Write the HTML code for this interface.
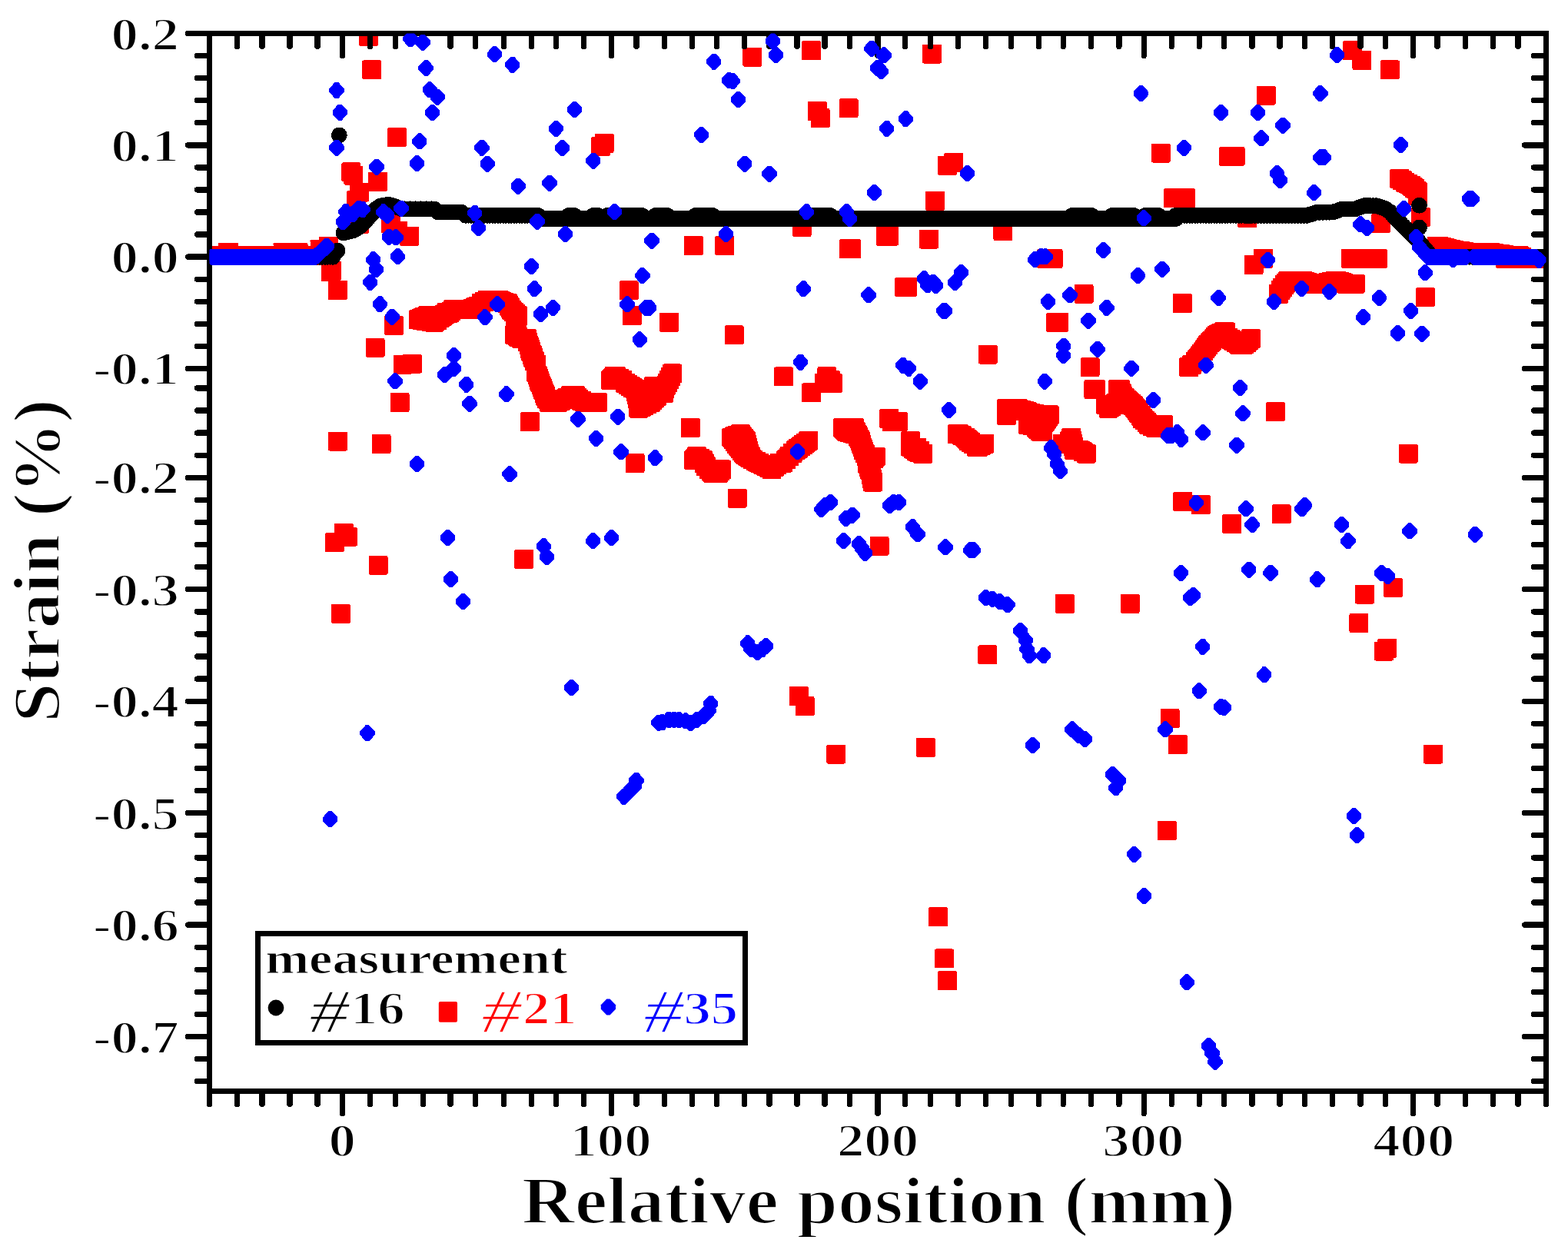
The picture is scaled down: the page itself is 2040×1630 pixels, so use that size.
<!DOCTYPE html>
<html lang="en"><head><meta charset="utf-8"><title>Strain vs relative position</title>
<style>
html,body{margin:0;padding:0;background:#fff;}
body{width:2040px;height:1630px;overflow:hidden;}
svg{display:block;}
text{font-family:"Liberation Serif","DejaVu Serif",serif;}
</style></head><body>
<svg width="2040" height="1630" viewBox="0 0 2040 1630">
<defs>
<clipPath id="plot"><rect x="272.5" y="43.5" width="1739.0" height="1376.0"/></clipPath>
<rect id="r" x="-12.5" y="-12.5" width="25" height="25" rx="2" ry="2"/>
<polygon id="d" points="-9.6,-2.7 -2.1,-10.5 2.1,-10.5 9.6,-2.7 9.6,2.7 2.1,10.5 -2.1,10.5 -9.6,2.7"/>
<circle id="c" r="10.4"/>
</defs>
<rect width="2040" height="1630" fill="#fff"/>
<g fill="#f00" clip-path="url(#plot)" shape-rendering="crispEdges">
<use href="#r" x="479.4" y="47.4"/>
<use href="#r" x="483.7" y="90.8"/>
<use href="#r" x="516.4" y="178.6"/>
<use href="#r" x="430.6" y="353.9"/>
<use href="#r" x="439.6" y="377.2"/>
<use href="#r" x="512.4" y="423.3"/>
<use href="#r" x="488.1" y="452.3"/>
<use href="#r" x="524.1" y="474"/>
<use href="#r" x="520.1" y="523.4"/>
<use href="#r" x="978.8" y="74.1"/>
<use href="#r" x="1055.6" y="65.8"/>
<use href="#r" x="1212.4" y="70.1"/>
<use href="#r" x="1063.2" y="144.5"/>
<use href="#r" x="1067.2" y="153.6"/>
<use href="#r" x="1104" y="140.9"/>
<use href="#r" x="781.8" y="190.3"/>
<use href="#r" x="786.2" y="186.3"/>
<use href="#r" x="1232.5" y="215.3"/>
<use href="#r" x="1240.8" y="211.3"/>
<use href="#r" x="1216.5" y="261.4"/>
<use href="#r" x="1043.2" y="295.4"/>
<use href="#r" x="1152" y="307.1"/>
<use href="#r" x="1156.4" y="307.1"/>
<use href="#r" x="1208.4" y="311.1"/>
<use href="#r" x="1304.9" y="300.4"/>
<use href="#r" x="902.3" y="319.5"/>
<use href="#r" x="942.7" y="319.5"/>
<use href="#r" x="1104" y="323.8"/>
<use href="#r" x="1107.6" y="323.8"/>
<use href="#r" x="1759.6" y="65.8"/>
<use href="#r" x="1771.9" y="78.4"/>
<use href="#r" x="1808.3" y="90.8"/>
<use href="#r" x="1647.1" y="124.2"/>
<use href="#r" x="1510.2" y="199"/>
<use href="#r" x="1598.7" y="203.3"/>
<use href="#r" x="1607" y="203.3"/>
<use href="#r" x="1526.2" y="257.7"/>
<use href="#r" x="1542.6" y="257.7"/>
<use href="#r" x="1622.7" y="283.8"/>
<use href="#r" x="1370" y="336.5"/>
<use href="#r" x="1361.7" y="336.5"/>
<use href="#r" x="1631.1" y="344.5"/>
<use href="#r" x="1854.4" y="386.6"/>
<use href="#r" x="439.6" y="574"/>
<use href="#r" x="496.1" y="577.4"/>
<use href="#r" x="447.3" y="693.2"/>
<use href="#r" x="452.3" y="698.2"/>
<use href="#r" x="435.3" y="705.9"/>
<use href="#r" x="492.1" y="735.3"/>
<use href="#r" x="443.3" y="798.4"/>
<use href="#r" x="681.7" y="727.3"/>
<use href="#r" x="959.1" y="648.2"/>
<use href="#r" x="1144" y="710.2"/>
<use href="#r" x="1284.9" y="851.8"/>
<use href="#r" x="1039.2" y="905.5"/>
<use href="#r" x="1047.2" y="918.6"/>
<use href="#r" x="1087.9" y="981"/>
<use href="#r" x="1204.4" y="972.3"/>
<use href="#r" x="1538.6" y="652.5"/>
<use href="#r" x="1562.3" y="656.5"/>
<use href="#r" x="1602.7" y="681.5"/>
<use href="#r" x="1667.1" y="668.9"/>
<use href="#r" x="1385.4" y="785.4"/>
<use href="#r" x="1470.2" y="785.4"/>
<use href="#r" x="1775.6" y="773"/>
<use href="#r" x="1812.3" y="764.3"/>
<use href="#r" x="1767.9" y="810.4"/>
<use href="#r" x="1800.6" y="847.1"/>
<use href="#r" x="1804.7" y="843.4"/>
<use href="#r" x="1522.2" y="934.6"/>
<use href="#r" x="1532.3" y="968.6"/>
<use href="#r" x="1864.4" y="981"/>
<use href="#r" x="1518.2" y="1080.5"/>
<use href="#r" x="1220.5" y="1192.8"/>
<use href="#r" x="1228.5" y="1246.9"/>
<use href="#r" x="1232.5" y="1275.6"/>
<use href="#r" x="689.4" y="548.6"/>
<use href="#r" x="826" y="602.6"/>
<use href="#r" x="536.3" y="473.2"/>
<use href="#r" x="818.1" y="377.8"/>
<use href="#r" x="822.2" y="410.9"/>
<use href="#r" x="544.5" y="415.6"/>
<use href="#r" x="548.6" y="416.3"/>
<use href="#r" x="552.7" y="417"/>
<use href="#r" x="556.8" y="417.8"/>
<use href="#r" x="561" y="418.5"/>
<use href="#r" x="565.1" y="419.2"/>
<use href="#r" x="568.7" y="416.6"/>
<use href="#r" x="572.3" y="413.9"/>
<use href="#r" x="575.9" y="411.2"/>
<use href="#r" x="578.4" y="409"/>
<use href="#r" x="580.9" y="406.7"/>
<use href="#r" x="584.3" y="407.2"/>
<use href="#r" x="586.8" y="405"/>
<use href="#r" x="589.3" y="402.7"/>
<use href="#r" x="593" y="402.7"/>
<use href="#r" x="596.8" y="402.7"/>
<use href="#r" x="600.5" y="402.7"/>
<use href="#r" x="604.3" y="402.7"/>
<use href="#r" x="607.6" y="402.7"/>
<use href="#r" x="611" y="402.7"/>
<use href="#r" x="614.6" y="401.3"/>
<use href="#r" x="618.2" y="399.8"/>
<use href="#r" x="621.8" y="398.4"/>
<use href="#r" x="626" y="394.5"/>
<use href="#r" x="630" y="392.5"/>
<use href="#r" x="634" y="390.5"/>
<use href="#r" x="637.5" y="390.5"/>
<use href="#r" x="641" y="390.5"/>
<use href="#r" x="644.8" y="390.5"/>
<use href="#r" x="648.5" y="390.5"/>
<use href="#r" x="652.4" y="391.9"/>
<use href="#r" x="656.3" y="393.2"/>
<use href="#r" x="660.2" y="394.5"/>
<use href="#r" x="662.1" y="397.5"/>
<use href="#r" x="663.9" y="400.4"/>
<use href="#r" x="665.7" y="403.4"/>
<use href="#r" x="668.3" y="405.8"/>
<use href="#r" x="671" y="408.2"/>
<use href="#r" x="673.6" y="410.6"/>
<use href="#r" x="672.7" y="415.3"/>
<use href="#r" x="671.9" y="420.1"/>
<use href="#r" x="671.4" y="424"/>
<use href="#r" x="670.8" y="428"/>
<use href="#r" x="670.3" y="432"/>
<use href="#r" x="669.7" y="435.9"/>
<use href="#r" x="673.9" y="438"/>
<use href="#r" x="678.1" y="440.1"/>
<use href="#r" x="681.7" y="440.4"/>
<use href="#r" x="685.3" y="440.6"/>
<use href="#r" x="686.6" y="444.9"/>
<use href="#r" x="688" y="449.2"/>
<use href="#r" x="689.4" y="453.5"/>
<use href="#r" x="690.8" y="457.5"/>
<use href="#r" x="692.2" y="461.5"/>
<use href="#r" x="693.6" y="465.5"/>
<use href="#r" x="695.5" y="469.7"/>
<use href="#r" x="697.4" y="474"/>
<use href="#r" x="697.6" y="477.5"/>
<use href="#r" x="697.7" y="480.9"/>
<use href="#r" x="697.8" y="484.4"/>
<use href="#r" x="699" y="487.8"/>
<use href="#r" x="700.2" y="491.3"/>
<use href="#r" x="701.5" y="494.7"/>
<use href="#r" x="702.7" y="497.9"/>
<use href="#r" x="704" y="501.2"/>
<use href="#r" x="705.3" y="504.4"/>
<use href="#r" x="706.7" y="508"/>
<use href="#r" x="708.1" y="511.6"/>
<use href="#r" x="709.5" y="515.2"/>
<use href="#r" x="711.7" y="519.2"/>
<use href="#r" x="714" y="523.3"/>
<use href="#r" x="719.5" y="523.3"/>
<use href="#r" x="725.3" y="523.3"/>
<use href="#r" x="729.5" y="521.3"/>
<use href="#r" x="733.7" y="519.4"/>
<use href="#r" x="737.8" y="517.1"/>
<use href="#r" x="742" y="514.7"/>
<use href="#r" x="745.4" y="514.7"/>
<use href="#r" x="748.7" y="514.7"/>
<use href="#r" x="750.8" y="517.1"/>
<use href="#r" x="752.9" y="519.4"/>
<use href="#r" x="756.6" y="521.3"/>
<use href="#r" x="760.4" y="523.3"/>
<use href="#r" x="764.6" y="523.3"/>
<use href="#r" x="768.7" y="523.3"/>
<use href="#r" x="773.1" y="523.4"/>
<use href="#r" x="777.4" y="523.6"/>
<use href="#r" x="548.6" y="413.9"/>
<use href="#r" x="552.6" y="412.2"/>
<use href="#r" x="556.7" y="410.6"/>
<use href="#r" x="560.6" y="410.7"/>
<use href="#r" x="564.4" y="410.8"/>
<use href="#r" x="568.2" y="411"/>
<use href="#r" x="572.1" y="411.1"/>
<use href="#r" x="794.6" y="494.4"/>
<use href="#r" x="796.7" y="492"/>
<use href="#r" x="798.8" y="489.7"/>
<use href="#r" x="801.3" y="489.7"/>
<use href="#r" x="805.5" y="492"/>
<use href="#r" x="809.6" y="494.4"/>
<use href="#r" x="813.8" y="498.5"/>
<use href="#r" x="817.1" y="500.6"/>
<use href="#r" x="820.3" y="502.7"/>
<use href="#r" x="823.6" y="504.8"/>
<use href="#r" x="826.8" y="506.9"/>
<use href="#r" x="827.8" y="511.1"/>
<use href="#r" x="828.8" y="515.2"/>
<use href="#r" x="829.8" y="519.4"/>
<use href="#r" x="830.8" y="523.6"/>
<use href="#r" x="830.8" y="527.3"/>
<use href="#r" x="830.8" y="531.1"/>
<use href="#r" x="834.4" y="529.3"/>
<use href="#r" x="838" y="527.4"/>
<use href="#r" x="842.2" y="525.3"/>
<use href="#r" x="846.4" y="523.3"/>
<use href="#r" x="849.1" y="520.6"/>
<use href="#r" x="851.9" y="517.9"/>
<use href="#r" x="854.7" y="515.2"/>
<use href="#r" x="853.3" y="511.1"/>
<use href="#r" x="851.9" y="506.9"/>
<use href="#r" x="850.5" y="502.7"/>
<use href="#r" x="853.9" y="504.8"/>
<use href="#r" x="857.2" y="506.9"/>
<use href="#r" x="860.6" y="509"/>
<use href="#r" x="863.9" y="511.1"/>
<use href="#r" x="870.5" y="419.4"/>
<use href="#r" x="955.2" y="435.9"/>
<use href="#r" x="1019.4" y="489.9"/>
<use href="#r" x="1176.7" y="373.3"/>
<use href="#r" x="1180.5" y="373.3"/>
<use href="#r" x="898.4" y="556.5"/>
<use href="#r" x="1055.5" y="510.9"/>
<use href="#r" x="1072" y="498.5"/>
<use href="#r" x="1075.9" y="489.7"/>
<use href="#r" x="1080.4" y="494.4"/>
<use href="#r" x="1083.2" y="498.5"/>
<use href="#r" x="874.5" y="485.9"/>
<use href="#r" x="872.5" y="489.9"/>
<use href="#r" x="870.4" y="493.9"/>
<use href="#r" x="868.4" y="497.9"/>
<use href="#r" x="866.3" y="501.9"/>
<use href="#r" x="864.4" y="506.5"/>
<use href="#r" x="862.5" y="511.1"/>
<use href="#r" x="902.6" y="598.4"/>
<use href="#r" x="904.7" y="596"/>
<use href="#r" x="906.7" y="593.7"/>
<use href="#r" x="910.5" y="596.2"/>
<use href="#r" x="914.3" y="598.7"/>
<use href="#r" x="916.3" y="602.7"/>
<use href="#r" x="918.4" y="606.7"/>
<use href="#r" x="922.6" y="610.9"/>
<use href="#r" x="925.1" y="613.2"/>
<use href="#r" x="927.6" y="615.4"/>
<use href="#r" x="931" y="615.4"/>
<use href="#r" x="934.3" y="615.4"/>
<use href="#r" x="936.4" y="613.2"/>
<use href="#r" x="938.5" y="610.9"/>
<use href="#r" x="951.8" y="569"/>
<use href="#r" x="955.7" y="567.6"/>
<use href="#r" x="959.6" y="566.2"/>
<use href="#r" x="963.5" y="564.8"/>
<use href="#r" x="965.8" y="567.8"/>
<use href="#r" x="968.2" y="570.7"/>
<use href="#r" x="970.5" y="573.7"/>
<use href="#r" x="971.5" y="577.6"/>
<use href="#r" x="972.4" y="581.6"/>
<use href="#r" x="973.4" y="585.6"/>
<use href="#r" x="974.4" y="589.5"/>
<use href="#r" x="976.9" y="593.7"/>
<use href="#r" x="979.4" y="597.9"/>
<use href="#r" x="983.5" y="600"/>
<use href="#r" x="987.7" y="602.1"/>
<use href="#r" x="991.9" y="604.1"/>
<use href="#r" x="996.1" y="606.2"/>
<use href="#r" x="1000" y="608.3"/>
<use href="#r" x="1003.9" y="610.4"/>
<use href="#r" x="1007.4" y="607.6"/>
<use href="#r" x="1010.9" y="604.8"/>
<use href="#r" x="1014.4" y="602.1"/>
<use href="#r" x="1018.6" y="602.1"/>
<use href="#r" x="1022.8" y="597.9"/>
<use href="#r" x="1026.9" y="593.7"/>
<use href="#r" x="1031.1" y="589.5"/>
<use href="#r" x="1035.3" y="585.9"/>
<use href="#r" x="1038.5" y="583.4"/>
<use href="#r" x="1041.8" y="580.9"/>
<use href="#r" x="1045" y="578.4"/>
<use href="#r" x="1048.2" y="576"/>
<use href="#r" x="1051.5" y="573.5"/>
<use href="#r" x="954.1" y="572"/>
<use href="#r" x="956.4" y="575"/>
<use href="#r" x="958.6" y="578"/>
<use href="#r" x="960.9" y="581"/>
<use href="#r" x="963.1" y="584"/>
<use href="#r" x="965.4" y="587"/>
<use href="#r" x="967.7" y="590"/>
<use href="#r" x="970.6" y="592"/>
<use href="#r" x="973.5" y="594"/>
<use href="#r" x="976.4" y="595.9"/>
<use href="#r" x="1096.7" y="556.6"/>
<use href="#r" x="1100.4" y="556.6"/>
<use href="#r" x="1104" y="556.6"/>
<use href="#r" x="1107.6" y="556.6"/>
<use href="#r" x="1111.3" y="556.6"/>
<use href="#r" x="1113.3" y="561"/>
<use href="#r" x="1115.4" y="565.3"/>
<use href="#r" x="1116.8" y="568.4"/>
<use href="#r" x="1118.2" y="571.4"/>
<use href="#r" x="1119.6" y="574.5"/>
<use href="#r" x="1120.8" y="578.3"/>
<use href="#r" x="1122" y="582.1"/>
<use href="#r" x="1123.3" y="585.9"/>
<use href="#r" x="1125.2" y="589.9"/>
<use href="#r" x="1127.1" y="594"/>
<use href="#r" x="1131.2" y="594"/>
<use href="#r" x="1135.2" y="594"/>
<use href="#r" x="1139.3" y="594"/>
<use href="#r" x="1136.7" y="596.5"/>
<use href="#r" x="1134" y="598.9"/>
<use href="#r" x="1131.4" y="601.3"/>
<use href="#r" x="1128.8" y="603.7"/>
<use href="#r" x="1130.2" y="607.6"/>
<use href="#r" x="1131.6" y="611.5"/>
<use href="#r" x="1133" y="615.4"/>
<use href="#r" x="1133.8" y="619.3"/>
<use href="#r" x="1134.6" y="623.2"/>
<use href="#r" x="1135.5" y="627.1"/>
<use href="#r" x="1098.8" y="558.9"/>
<use href="#r" x="1100.9" y="561.2"/>
<use href="#r" x="1104.5" y="562.2"/>
<use href="#r" x="1108.2" y="563.2"/>
<use href="#r" x="1111.8" y="564.3"/>
<use href="#r" x="1156.8" y="544.5"/>
<use href="#r" x="1160.5" y="548.6"/>
<use href="#r" x="1164.4" y="548.6"/>
<use href="#r" x="1168.3" y="548.6"/>
<use href="#r" x="1184.7" y="573.7"/>
<use href="#r" x="1184.7" y="577.4"/>
<use href="#r" x="1184.7" y="581.2"/>
<use href="#r" x="1188.5" y="584.1"/>
<use href="#r" x="1192.2" y="587"/>
<use href="#r" x="1196.4" y="588.7"/>
<use href="#r" x="1200.6" y="590.4"/>
<use href="#r" x="1410" y="382.2"/>
<use href="#r" x="1373.6" y="419.4"/>
<use href="#r" x="1377.5" y="419.4"/>
<use href="#r" x="1285.2" y="461"/>
<use href="#r" x="1418" y="477.7"/>
<use href="#r" x="1422.9" y="506.6"/>
<use href="#r" x="1425.4" y="506.6"/>
<use href="#r" x="1454.6" y="506.6"/>
<use href="#r" x="1457.6" y="506.6"/>
<use href="#r" x="1192.5" y="582"/>
<use href="#r" x="1196.7" y="586.2"/>
<use href="#r" x="1245.1" y="564.8"/>
<use href="#r" x="1247.6" y="564.8"/>
<use href="#r" x="1251.8" y="566.9"/>
<use href="#r" x="1255.9" y="569"/>
<use href="#r" x="1258.2" y="571.3"/>
<use href="#r" x="1260.5" y="573.7"/>
<use href="#r" x="1263.2" y="575.6"/>
<use href="#r" x="1266" y="577.5"/>
<use href="#r" x="1270.1" y="581.2"/>
<use href="#r" x="1272.6" y="581.2"/>
<use href="#r" x="1276.6" y="579.3"/>
<use href="#r" x="1280.5" y="577.5"/>
<use href="#r" x="1309.7" y="540.3"/>
<use href="#r" x="1309.7" y="535.9"/>
<use href="#r" x="1309.7" y="531.6"/>
<use href="#r" x="1313.4" y="531.6"/>
<use href="#r" x="1317" y="531.6"/>
<use href="#r" x="1320.7" y="531.6"/>
<use href="#r" x="1324.4" y="531.6"/>
<use href="#r" x="1328.6" y="533"/>
<use href="#r" x="1332.7" y="534.4"/>
<use href="#r" x="1336.9" y="535.8"/>
<use href="#r" x="1341.4" y="537.2"/>
<use href="#r" x="1345.8" y="538.6"/>
<use href="#r" x="1350.3" y="539.9"/>
<use href="#r" x="1354" y="539.9"/>
<use href="#r" x="1357.8" y="539.9"/>
<use href="#r" x="1361.5" y="539.9"/>
<use href="#r" x="1365.3" y="539.9"/>
<use href="#r" x="1337.7" y="552.5"/>
<use href="#r" x="1341.5" y="553.1"/>
<use href="#r" x="1345.3" y="553.6"/>
<use href="#r" x="1348" y="556.1"/>
<use href="#r" x="1350.8" y="558.6"/>
<use href="#r" x="1353.6" y="561.2"/>
<use href="#r" x="1356.9" y="561.2"/>
<use href="#r" x="1356.9" y="556.6"/>
<use href="#r" x="1356.9" y="552"/>
<use href="#r" x="1359" y="549"/>
<use href="#r" x="1361.1" y="546"/>
<use href="#r" x="1363.2" y="543"/>
<use href="#r" x="1337.7" y="545.3"/>
<use href="#r" x="1341.9" y="545.8"/>
<use href="#r" x="1346.1" y="546.4"/>
<use href="#r" x="1350.3" y="547"/>
<use href="#r" x="1382" y="577.5"/>
<use href="#r" x="1385.7" y="577.5"/>
<use href="#r" x="1389.5" y="577.5"/>
<use href="#r" x="1391.6" y="573.3"/>
<use href="#r" x="1393.7" y="569"/>
<use href="#r" x="1394.7" y="573.2"/>
<use href="#r" x="1395.8" y="577.4"/>
<use href="#r" x="1396.8" y="581.6"/>
<use href="#r" x="1397.8" y="585.9"/>
<use href="#r" x="1401.6" y="585.9"/>
<use href="#r" x="1405.4" y="585.9"/>
<use href="#r" x="1409.3" y="587.9"/>
<use href="#r" x="1413.2" y="590"/>
<use href="#r" x="1438.7" y="526.9"/>
<use href="#r" x="1442.1" y="531.1"/>
<use href="#r" x="1445.4" y="529"/>
<use href="#r" x="1448.8" y="526.9"/>
<use href="#r" x="1451.7" y="524.7"/>
<use href="#r" x="1454.7" y="522.5"/>
<use href="#r" x="1457.6" y="520.3"/>
<use href="#r" x="1461.5" y="521.9"/>
<use href="#r" x="1465.5" y="523.6"/>
<use href="#r" x="1469.6" y="525.7"/>
<use href="#r" x="1473.8" y="527.8"/>
<use href="#r" x="1476.3" y="530.3"/>
<use href="#r" x="1478.8" y="532.8"/>
<use href="#r" x="1481.5" y="536.6"/>
<use href="#r" x="1484.2" y="540.3"/>
<use href="#r" x="1486.8" y="544.1"/>
<use href="#r" x="1489.4" y="546.9"/>
<use href="#r" x="1492.1" y="549.7"/>
<use href="#r" x="1494.7" y="552.5"/>
<use href="#r" x="1498.8" y="554.3"/>
<use href="#r" x="1503" y="556.1"/>
<use href="#r" x="1506.6" y="555"/>
<use href="#r" x="1510.3" y="553.9"/>
<use href="#r" x="1513.9" y="552.8"/>
<use href="#r" x="1459" y="510.9"/>
<use href="#r" x="1460.5" y="515.2"/>
<use href="#r" x="1463.4" y="517.7"/>
<use href="#r" x="1466.3" y="520.3"/>
<use href="#r" x="1469.1" y="522.8"/>
<use href="#r" x="1471.9" y="525.3"/>
<use href="#r" x="1474.6" y="527.8"/>
<use href="#r" x="1477" y="531.1"/>
<use href="#r" x="1479.3" y="534.4"/>
<use href="#r" x="1481.7" y="537.8"/>
<use href="#r" x="1484" y="541.1"/>
<use href="#r" x="1486.3" y="544.5"/>
<use href="#r" x="1538.4" y="394.5"/>
<use href="#r" x="1659.4" y="535.8"/>
<use href="#r" x="1832.2" y="590"/>
<use href="#r" x="1546.7" y="477.7"/>
<use href="#r" x="1550.9" y="474.3"/>
<use href="#r" x="1555.1" y="470.2"/>
<use href="#r" x="1557.2" y="467.9"/>
<use href="#r" x="1559.3" y="465.7"/>
<use href="#r" x="1561.5" y="462.7"/>
<use href="#r" x="1563.7" y="459.8"/>
<use href="#r" x="1565.9" y="456.8"/>
<use href="#r" x="1567.9" y="454"/>
<use href="#r" x="1569.8" y="451.2"/>
<use href="#r" x="1571.8" y="448.5"/>
<use href="#r" x="1574.3" y="445.8"/>
<use href="#r" x="1576.8" y="443.2"/>
<use href="#r" x="1579.3" y="440.6"/>
<use href="#r" x="1581.4" y="438.3"/>
<use href="#r" x="1583.5" y="435.9"/>
<use href="#r" x="1587.6" y="433.9"/>
<use href="#r" x="1591.8" y="431.8"/>
<use href="#r" x="1594.3" y="431.8"/>
<use href="#r" x="1594.3" y="436.8"/>
<use href="#r" x="1597.8" y="439"/>
<use href="#r" x="1601.3" y="441.3"/>
<use href="#r" x="1604.8" y="443.6"/>
<use href="#r" x="1608.3" y="445.9"/>
<use href="#r" x="1611.9" y="448.1"/>
<use href="#r" x="1615.2" y="448.1"/>
<use href="#r" x="1618.5" y="448.1"/>
<use href="#r" x="1621.5" y="445.6"/>
<use href="#r" x="1624.4" y="443.1"/>
<use href="#r" x="1627.4" y="440.6"/>
<use href="#r" x="1848.4" y="282.4"/>
<use href="#r" x="1796.7" y="290.4"/>
<use href="#r" x="1757.1" y="336.3"/>
<use href="#r" x="1769" y="336.3"/>
<use href="#r" x="1780.8" y="336.3"/>
<use href="#r" x="1792.4" y="336.3"/>
<use href="#r" x="1643.5" y="336.3"/>
<use href="#r" x="1820.8" y="232.5"/>
<use href="#r" x="1824.4" y="234.8"/>
<use href="#r" x="1828" y="237.1"/>
<use href="#r" x="1832" y="239"/>
<use href="#r" x="1835.9" y="241"/>
<use href="#r" x="1838.2" y="243"/>
<use href="#r" x="1840.6" y="245.1"/>
<use href="#r" x="1844.1" y="248.8"/>
<use href="#r" x="1844.1" y="251.9"/>
<use href="#r" x="1844.1" y="254.9"/>
<use href="#r" x="1663.5" y="382.4"/>
<use href="#r" x="1666.1" y="377.5"/>
<use href="#r" x="1668.5" y="374"/>
<use href="#r" x="1671" y="370.6"/>
<use href="#r" x="1673.3" y="368"/>
<use href="#r" x="1675.7" y="365.5"/>
<use href="#r" x="1679.5" y="365.5"/>
<use href="#r" x="1683.2" y="365.5"/>
<use href="#r" x="1687" y="365.5"/>
<use href="#r" x="1690.7" y="365.5"/>
<use href="#r" x="1694.5" y="365.5"/>
<use href="#r" x="1697.9" y="366.5"/>
<use href="#r" x="1701.4" y="367.5"/>
<use href="#r" x="1704.8" y="368.4"/>
<use href="#r" x="1708.2" y="369.4"/>
<use href="#r" x="1712.2" y="369.4"/>
<use href="#r" x="1716.1" y="369.4"/>
<use href="#r" x="1720" y="369.4"/>
<use href="#r" x="1724.1" y="368.4"/>
<use href="#r" x="1728.2" y="367.5"/>
<use href="#r" x="1732.4" y="366.5"/>
<use href="#r" x="1736.5" y="365.5"/>
<use href="#r" x="1739.2" y="365.5"/>
<use href="#r" x="1743.3" y="366.7"/>
<use href="#r" x="1747.3" y="367.8"/>
<use href="#r" x="1751.4" y="369"/>
<use href="#r" x="1755.4" y="369"/>
<use href="#r" x="1759.3" y="369"/>
<use href="#r" x="1763.3" y="369"/>
<use href="#r" x="1869.2" y="320"/>
<use href="#r" x="1872.2" y="320"/>
<use href="#r" x="1876.1" y="321.3"/>
<use href="#r" x="1880" y="322.6"/>
<use href="#r" x="1883.9" y="323.9"/>
<use href="#r" x="1888.1" y="324.6"/>
<use href="#r" x="1892.3" y="325.4"/>
<use href="#r" x="1896.5" y="326.1"/>
<use href="#r" x="1900.7" y="326.8"/>
<use href="#r" x="1904.8" y="327.5"/>
<use href="#r" x="1909" y="328.2"/>
<use href="#r" x="1912.9" y="328.2"/>
<use href="#r" x="1916.7" y="328.2"/>
<use href="#r" x="1920.5" y="328.2"/>
<use href="#r" x="1924.4" y="328.2"/>
<use href="#r" x="1928.2" y="328.2"/>
<use href="#r" x="1932" y="328.2"/>
<use href="#r" x="1935.9" y="328.2"/>
<use href="#r" x="1940.1" y="328.9"/>
<use href="#r" x="1944.2" y="329.5"/>
<use href="#r" x="1948.4" y="330.2"/>
<use href="#r" x="1952.6" y="330.8"/>
<use href="#r" x="1956.8" y="331.5"/>
<use href="#r" x="1961" y="332.2"/>
<use href="#r" x="1964.8" y="332.2"/>
<use href="#r" x="1968.5" y="332.2"/>
<use href="#r" x="1972.3" y="332.2"/>
<use href="#r" x="1976.1" y="332.2"/>
<use href="#r" x="1979.4" y="334.1"/>
<use href="#r" x="1982.7" y="336.1"/>
<use href="#r" x="1986.4" y="336.2"/>
<use href="#r" x="1990" y="336.3"/>
<use href="#r" x="1993.6" y="336.4"/>
<use href="#r" x="1997.3" y="336.5"/>
<use href="#r" x="1958" y="336.1"/>
<use href="#r" x="1962" y="336.1"/>
<use href="#r" x="1965.9" y="336.1"/>
<use href="#r" x="1969.8" y="336.1"/>
<use href="#r" x="1973.7" y="336.1"/>
<use href="#r" x="1977.6" y="336.1"/>
<use href="#r" x="1981.6" y="336.1"/>
<use href="#r" x="1985.5" y="336.1"/>
<use href="#r" x="1989.4" y="336.1"/>
<use href="#r" x="1993.3" y="336.1"/>
<use href="#r" x="1997.3" y="336.1"/>
<use href="#r" x="456.8" y="223.8"/>
<use href="#r" x="459.8" y="228"/>
<use href="#r" x="491.5" y="236.2"/>
<use href="#r" x="467.5" y="250"/>
<use href="#r" x="463.8" y="260"/>
<use href="#r" x="467.5" y="291.2"/>
<use href="#r" x="508" y="290.5"/>
<use href="#r" x="517.5" y="300"/>
<use href="#r" x="532.5" y="307.2"/>
<use href="#r" x="431.5" y="352.5"/>
<use href="#r" x="439.5" y="377.5"/>
<use href="#r" x="296.5" y="328"/>
<use href="#r" x="297.5" y="328"/>
<use href="#r" x="368" y="328"/>
<use href="#r" x="372" y="328"/>
<use href="#r" x="376" y="328"/>
<use href="#r" x="380" y="328"/>
<use href="#r" x="384" y="328"/>
<use href="#r" x="388" y="328"/>
<use href="#r" x="416" y="324"/>
<use href="#r" x="427.5" y="320"/>
<use href="#r" x="273" y="332"/>
<use href="#r" x="277" y="332"/>
<use href="#r" x="281" y="332"/>
<use href="#r" x="285" y="332"/>
<use href="#r" x="289" y="332"/>
<use href="#r" x="293" y="332"/>
<use href="#r" x="297" y="332"/>
<use href="#r" x="301" y="332"/>
<use href="#r" x="305" y="332"/>
<use href="#r" x="309" y="332"/>
<use href="#r" x="313" y="332"/>
<use href="#r" x="317" y="332"/>
<use href="#r" x="321" y="332"/>
<use href="#r" x="325" y="332"/>
<use href="#r" x="329" y="332"/>
<use href="#r" x="333" y="332"/>
<use href="#r" x="337" y="332"/>
<use href="#r" x="341" y="332"/>
<use href="#r" x="345" y="332"/>
<use href="#r" x="349" y="332"/>
<use href="#r" x="353" y="332"/>
<use href="#r" x="357" y="332"/>
<use href="#r" x="361" y="332"/>
<use href="#r" x="365" y="332"/>
<use href="#r" x="369" y="332"/>
<use href="#r" x="373" y="332"/>
<use href="#r" x="377" y="332"/>
<use href="#r" x="381" y="332"/>
<use href="#r" x="385" y="332"/>
<use href="#r" x="389" y="332"/>
<use href="#r" x="393" y="332"/>
<use href="#r" x="397" y="332"/>
<use href="#r" x="401" y="332"/>
<use href="#r" x="405" y="332"/>
<use href="#r" x="409" y="332"/>
<use href="#r" x="413" y="332"/>
<use href="#r" x="417" y="332"/>
</g>
<g stroke="#000" stroke-width="7" fill="none" stroke-linecap="round" shape-rendering="crispEdges">
<rect x="272.5" y="43.5" width="1739.0" height="1376.0" stroke-linecap="butt" stroke-linejoin="miter"/>
<path stroke-width="7.4" d="M272.5 1419.5V1436.5M308.7 1419.5V1436.5M308.7 43.5V60.5M341 1419.5V1436.5M341 43.5V60.5M377 1419.5V1436.5M377 43.5V60.5M413 1419.5V1436.5M413 43.5V60.5M445.3 1419.5V1448.5M445.3 43.5V72.5M481.3 1419.5V1436.5M481.3 43.5V60.5M514.3 1419.5V1436.5M514.3 43.5V60.5M550.3 1419.5V1436.5M550.3 43.5V60.5M586 1419.5V1436.5M586 43.5V60.5M618.7 1419.5V1436.5M618.7 43.5V60.5M655.3 1419.5V1436.5M655.3 43.5V60.5M691.3 1419.5V1436.5M691.3 43.5V60.5M723.7 1419.5V1436.5M723.7 43.5V60.5M759.3 1419.5V1436.5M759.3 43.5V60.5M795.7 1419.5V1448.5M795.7 43.5V72.5M828 1419.5V1436.5M828 43.5V60.5M864.3 1419.5V1436.5M864.3 43.5V60.5M900.3 1419.5V1436.5M900.3 43.5V60.5M932.7 1419.5V1436.5M932.7 43.5V60.5M968.7 1419.5V1436.5M968.7 43.5V60.5M1001 1419.5V1436.5M1001 43.5V60.5M1037 1419.5V1436.5M1037 43.5V60.5M1073 1419.5V1436.5M1073 43.5V60.5M1105.3 1419.5V1436.5M1105.3 43.5V60.5M1142 1419.5V1448.5M1142 43.5V72.5M1177.7 1419.5V1436.5M1177.7 43.5V60.5M1210.3 1419.5V1436.5M1210.3 43.5V60.5M1246.3 1419.5V1436.5M1246.3 43.5V60.5M1282.7 1419.5V1436.5M1282.7 43.5V60.5M1315.3 1419.5V1436.5M1315.3 43.5V60.5M1351.3 1419.5V1436.5M1351.3 43.5V60.5M1383.2 1419.5V1436.5M1383.2 43.5V60.5M1419.3 1419.5V1436.5M1419.3 43.5V60.5M1455.8 1419.5V1436.5M1455.8 43.5V60.5M1488.2 1419.5V1448.5M1488.2 43.5V72.5M1524.2 1419.5V1436.5M1524.2 43.5V60.5M1560.2 1419.5V1436.5M1560.2 43.5V60.5M1592.7 1419.5V1436.5M1592.7 43.5V60.5M1629 1419.5V1436.5M1629 43.5V60.5M1665 1419.5V1436.5M1665 43.5V60.5M1697.3 1419.5V1436.5M1697.3 43.5V60.5M1733.3 1419.5V1436.5M1733.3 43.5V60.5M1770 1419.5V1436.5M1770 43.5V60.5M1802.3 1419.5V1436.5M1802.3 43.5V60.5M1838.3 1419.5V1448.5M1838.3 43.5V72.5M1870 1419.5V1436.5M1870 43.5V60.5M1906.7 1419.5V1436.5M1906.7 43.5V60.5M1942.7 1419.5V1436.5M1942.7 43.5V60.5M1975 1419.5V1436.5M1975 43.5V60.5M2011.5 1419.5V1436.5M272.5 43.5H244.5M272.5 72.6H256.5M2011.5 72.6H1995.5M272.5 101.6H256.5M2011.5 101.6H1995.5M272.5 130.7H256.5M2011.5 130.7H1995.5M272.5 159.7H256.5M2011.5 159.7H1995.5M272.5 188.8H244.5M2011.5 188.8H1983.5M272.5 217.9H256.5M2011.5 217.9H1995.5M272.5 246.9H256.5M2011.5 246.9H1995.5M272.5 276H256.5M2011.5 276H1995.5M272.5 305H256.5M2011.5 305H1995.5M272.5 334.1H244.5M2011.5 334.1H1983.5M272.5 363.2H256.5M2011.5 363.2H1995.5M272.5 392.2H256.5M2011.5 392.2H1995.5M272.5 421.3H256.5M2011.5 421.3H1995.5M272.5 450.3H256.5M2011.5 450.3H1995.5M272.5 479.4H244.5M2011.5 479.4H1983.5M272.5 504.9H256.5M2011.5 504.9H1995.5M272.5 534H256.5M2011.5 534H1995.5M272.5 563.1H256.5M2011.5 563.1H1995.5M272.5 592.2H256.5M2011.5 592.2H1995.5M272.5 621.3H244.5M2011.5 621.3H1983.5M272.5 650.3H256.5M2011.5 650.3H1995.5M272.5 679.4H256.5M2011.5 679.4H1995.5M272.5 708.5H256.5M2011.5 708.5H1995.5M272.5 737.6H256.5M2011.5 737.6H1995.5M272.5 766.7H244.5M2011.5 766.7H1983.5M272.5 795.8H256.5M2011.5 795.8H1995.5M272.5 824.9H256.5M2011.5 824.9H1995.5M272.5 854H256.5M2011.5 854H1995.5M272.5 883.1H256.5M2011.5 883.1H1995.5M272.5 912.2H244.5M2011.5 912.2H1983.5M272.5 941.2H256.5M2011.5 941.2H1995.5M272.5 970.3H256.5M2011.5 970.3H1995.5M272.5 999.4H256.5M2011.5 999.4H1995.5M272.5 1028.5H256.5M2011.5 1028.5H1995.5M272.5 1057.6H244.5M2011.5 1057.6H1983.5M272.5 1086.7H256.5M2011.5 1086.7H1995.5M272.5 1115.8H256.5M2011.5 1115.8H1995.5M272.5 1144.9H256.5M2011.5 1144.9H1995.5M272.5 1174H256.5M2011.5 1174H1995.5M272.5 1203.1H244.5M2011.5 1203.1H1983.5M272.5 1232.2H256.5M2011.5 1232.2H1995.5M272.5 1261.2H256.5M2011.5 1261.2H1995.5M272.5 1290.3H256.5M2011.5 1290.3H1995.5M272.5 1319.4H256.5M2011.5 1319.4H1995.5M272.5 1348.5H244.5M2011.5 1348.5H1983.5M272.5 1377.6H256.5M2011.5 1377.6H1995.5M272.5 1406.7H256.5M2011.5 1406.7H1995.5"/>
</g>
<g fill="#000" clip-path="url(#plot)" shape-rendering="crispEdges">
<use href="#c" x="441.3" y="175.9"/>
<use href="#c" x="1846.5" y="267.3"/>
<use href="#c" x="1846.5" y="296.1"/>
<use href="#c" x="1620" y="280.4"/>
<use href="#c" x="1624" y="280.4"/>
<use href="#c" x="1628" y="280.4"/>
<use href="#c" x="1632.1" y="280.4"/>
<use href="#c" x="1636.1" y="280.4"/>
<use href="#c" x="1640.1" y="280.4"/>
<use href="#c" x="1644.1" y="280.4"/>
<use href="#c" x="1648.1" y="280.4"/>
<use href="#c" x="1652.2" y="280.4"/>
<use href="#c" x="1656.2" y="280.4"/>
<use href="#c" x="1660.2" y="280.4"/>
<use href="#c" x="1664.2" y="280.4"/>
<use href="#c" x="1668.2" y="280.4"/>
<use href="#c" x="1672.3" y="280.4"/>
<use href="#c" x="1676.3" y="280.4"/>
<use href="#c" x="1680.3" y="280.4"/>
<use href="#c" x="1684.3" y="280.4"/>
<use href="#c" x="1688.3" y="280.4"/>
<use href="#c" x="1692.4" y="280.4"/>
<use href="#c" x="1696.4" y="280.4"/>
<use href="#c" x="1700.4" y="280.4"/>
<use href="#c" x="1704.3" y="279.1"/>
<use href="#c" x="1708.2" y="277.8"/>
<use href="#c" x="1712.2" y="276.5"/>
<use href="#c" x="1716.5" y="276.4"/>
<use href="#c" x="1720.8" y="276.3"/>
<use href="#c" x="1725.1" y="276.2"/>
<use href="#c" x="1729.4" y="276.2"/>
<use href="#c" x="1733.7" y="276.1"/>
<use href="#c" x="1737.6" y="274.8"/>
<use href="#c" x="1741.6" y="273.5"/>
<use href="#c" x="1745.5" y="272.2"/>
<use href="#c" x="1749.9" y="272.1"/>
<use href="#c" x="1754.3" y="272"/>
<use href="#c" x="1758.7" y="271.9"/>
<use href="#c" x="1763.1" y="271.8"/>
<use href="#c" x="1767.1" y="270.4"/>
<use href="#c" x="1771" y="269"/>
<use href="#c" x="1774.9" y="267.6"/>
<use href="#c" x="1778.8" y="267.6"/>
<use href="#c" x="1782.7" y="267.6"/>
<use href="#c" x="1786.7" y="267.6"/>
<use href="#c" x="1790.6" y="267.6"/>
<use href="#c" x="1793.9" y="268.6"/>
<use href="#c" x="1797.1" y="269.6"/>
<use href="#c" x="1800.4" y="270.6"/>
<use href="#c" x="1804.3" y="273"/>
<use href="#c" x="1808.2" y="275.5"/>
<use href="#c" x="1810.8" y="278.4"/>
<use href="#c" x="1813.5" y="281.4"/>
<use href="#c" x="1816.1" y="284.3"/>
<use href="#c" x="1819.3" y="287.6"/>
<use href="#c" x="1822.6" y="290.8"/>
<use href="#c" x="1825.9" y="294.1"/>
<use href="#c" x="1829.2" y="297.4"/>
<use href="#c" x="1832.4" y="300.7"/>
<use href="#c" x="1835.7" y="303.9"/>
<use href="#c" x="1839" y="307.2"/>
<use href="#c" x="1842.2" y="310.5"/>
<use href="#c" x="1845.5" y="313.7"/>
<use href="#c" x="1847.9" y="316.7"/>
<use href="#c" x="1850.4" y="319.6"/>
<use href="#c" x="1852.8" y="322.5"/>
<use href="#c" x="1855.3" y="325.5"/>
<use href="#c" x="1857.9" y="328.4"/>
<use href="#c" x="1860.5" y="331.4"/>
<use href="#c" x="1863.1" y="334.3"/>
<use href="#c" x="1867.2" y="334.3"/>
<use href="#c" x="1871.2" y="334.3"/>
<use href="#c" x="1875.2" y="334.3"/>
<use href="#c" x="1879.3" y="334.3"/>
<use href="#c" x="1883.3" y="334.3"/>
<use href="#c" x="1887.3" y="334.3"/>
<use href="#c" x="1891.4" y="334.3"/>
<use href="#c" x="1895.4" y="334.3"/>
<use href="#c" x="1899.4" y="334.3"/>
<use href="#c" x="1903.5" y="334.3"/>
<use href="#c" x="1907.5" y="334.3"/>
<use href="#c" x="1911.5" y="334.3"/>
<use href="#c" x="1915.6" y="334.3"/>
<use href="#c" x="1919.6" y="334.3"/>
<use href="#c" x="1923.6" y="334.3"/>
<use href="#c" x="1927.7" y="334.3"/>
<use href="#c" x="1931.7" y="334.3"/>
<use href="#c" x="1935.7" y="334.3"/>
<use href="#c" x="1939.8" y="334.3"/>
<use href="#c" x="1943.8" y="334.3"/>
<use href="#c" x="1947.8" y="334.3"/>
<use href="#c" x="1951.9" y="334.3"/>
<use href="#c" x="1955.9" y="334.3"/>
<use href="#c" x="1959.9" y="334.3"/>
<use href="#c" x="1964" y="334.3"/>
<use href="#c" x="1968" y="334.3"/>
<use href="#c" x="1972" y="334.3"/>
<use href="#c" x="1976.1" y="334.3"/>
<use href="#c" x="1980.1" y="334.3"/>
<use href="#c" x="1984.1" y="334.3"/>
<use href="#c" x="1988.2" y="334.3"/>
<use href="#c" x="1992.2" y="334.3"/>
<use href="#c" x="1996.2" y="334.3"/>
<use href="#c" x="2000.3" y="334.3"/>
<use href="#c" x="2004.3" y="334.3"/>
<use href="#c" x="273" y="334.3"/>
<use href="#c" x="276.5" y="334.3"/>
<use href="#c" x="280" y="334.3"/>
<use href="#c" x="283.4" y="334.3"/>
<use href="#c" x="286.9" y="334.3"/>
<use href="#c" x="290.4" y="334.3"/>
<use href="#c" x="293.9" y="334.3"/>
<use href="#c" x="297.3" y="334.3"/>
<use href="#c" x="300.8" y="334.3"/>
<use href="#c" x="304.3" y="334.3"/>
<use href="#c" x="307.8" y="334.3"/>
<use href="#c" x="311.3" y="334.3"/>
<use href="#c" x="314.7" y="334.3"/>
<use href="#c" x="318.2" y="334.3"/>
<use href="#c" x="321.7" y="334.3"/>
<use href="#c" x="325.2" y="334.3"/>
<use href="#c" x="328.7" y="334.3"/>
<use href="#c" x="332.1" y="334.3"/>
<use href="#c" x="335.6" y="334.3"/>
<use href="#c" x="339.1" y="334.3"/>
<use href="#c" x="342.6" y="334.3"/>
<use href="#c" x="346" y="334.3"/>
<use href="#c" x="349.5" y="334.3"/>
<use href="#c" x="353" y="334.3"/>
<use href="#c" x="356.5" y="334.3"/>
<use href="#c" x="360" y="334.3"/>
<use href="#c" x="363.4" y="334.3"/>
<use href="#c" x="366.9" y="334.3"/>
<use href="#c" x="370.4" y="334.3"/>
<use href="#c" x="373.9" y="334.3"/>
<use href="#c" x="377.3" y="334.3"/>
<use href="#c" x="380.8" y="334.3"/>
<use href="#c" x="384.3" y="334.3"/>
<use href="#c" x="387.8" y="334.3"/>
<use href="#c" x="391.3" y="334.3"/>
<use href="#c" x="394.7" y="334.3"/>
<use href="#c" x="398.2" y="334.3"/>
<use href="#c" x="401.7" y="334.3"/>
<use href="#c" x="405.2" y="334.3"/>
<use href="#c" x="408.7" y="334.3"/>
<use href="#c" x="412.1" y="334.3"/>
<use href="#c" x="415.6" y="334.3"/>
<use href="#c" x="419.1" y="334.3"/>
<use href="#c" x="422.6" y="334.3"/>
<use href="#c" x="426" y="334.3"/>
<use href="#c" x="429.5" y="334.3"/>
<use href="#c" x="433" y="334.3"/>
<use href="#c" x="434.5" y="331.4"/>
<use href="#c" x="436" y="328.5"/>
<use href="#c" x="439" y="326"/>
<use href="#c" x="447" y="303"/>
<use href="#c" x="451" y="302"/>
<use href="#c" x="455" y="301"/>
<use href="#c" x="459" y="300"/>
<use href="#c" x="463" y="298"/>
<use href="#c" x="467" y="295.5"/>
<use href="#c" x="469" y="293.8"/>
<use href="#c" x="471" y="292"/>
<use href="#c" x="473" y="290"/>
<use href="#c" x="475" y="288"/>
<use href="#c" x="477" y="285.8"/>
<use href="#c" x="479" y="283.5"/>
<use href="#c" x="481" y="281.2"/>
<use href="#c" x="483" y="279"/>
<use href="#c" x="485" y="276.5"/>
<use href="#c" x="487" y="274"/>
<use href="#c" x="489" y="272.2"/>
<use href="#c" x="491" y="270.5"/>
<use href="#c" x="495" y="268"/>
<use href="#c" x="499" y="267"/>
<use href="#c" x="503" y="266.5"/>
<use href="#c" x="507" y="266.5"/>
<use href="#c" x="511" y="267.5"/>
<use href="#c" x="515" y="269"/>
<use href="#c" x="519" y="270.5"/>
<use href="#c" x="523" y="271.9"/>
<use href="#c" x="526.5" y="271.9"/>
<use href="#c" x="530" y="271.9"/>
<use href="#c" x="533.5" y="271.9"/>
<use href="#c" x="537" y="271.9"/>
<use href="#c" x="540.5" y="271.9"/>
<use href="#c" x="544" y="271.9"/>
<use href="#c" x="547.5" y="271.9"/>
<use href="#c" x="551" y="271.9"/>
<use href="#c" x="554.5" y="271.9"/>
<use href="#c" x="558" y="271.9"/>
<use href="#c" x="561.5" y="271.9"/>
<use href="#c" x="565" y="271.9"/>
<use href="#c" x="570" y="276.1"/>
<use href="#c" x="573.3" y="276.1"/>
<use href="#c" x="576.7" y="276.1"/>
<use href="#c" x="580" y="276.1"/>
<use href="#c" x="583.3" y="276.1"/>
<use href="#c" x="586.7" y="276.1"/>
<use href="#c" x="590" y="276.1"/>
<use href="#c" x="593.3" y="276.1"/>
<use href="#c" x="596.7" y="276.1"/>
<use href="#c" x="600" y="276.1"/>
<use href="#c" x="606" y="280.3"/>
<use href="#c" x="609.5" y="280.3"/>
<use href="#c" x="613" y="280.3"/>
<use href="#c" x="616.4" y="280.3"/>
<use href="#c" x="619.9" y="280.3"/>
<use href="#c" x="623.4" y="280.3"/>
<use href="#c" x="626.9" y="280.3"/>
<use href="#c" x="630.4" y="280.3"/>
<use href="#c" x="633.9" y="280.3"/>
<use href="#c" x="637.3" y="280.3"/>
<use href="#c" x="640.8" y="280.3"/>
<use href="#c" x="644.3" y="280.3"/>
<use href="#c" x="647.8" y="280.3"/>
<use href="#c" x="651.3" y="280.3"/>
<use href="#c" x="654.7" y="280.3"/>
<use href="#c" x="658.2" y="280.3"/>
<use href="#c" x="661.7" y="280.3"/>
<use href="#c" x="665.2" y="280.3"/>
<use href="#c" x="668.7" y="280.3"/>
<use href="#c" x="672.1" y="280.3"/>
<use href="#c" x="675.6" y="280.3"/>
<use href="#c" x="679.1" y="280.3"/>
<use href="#c" x="682.6" y="280.3"/>
<use href="#c" x="686.1" y="280.3"/>
<use href="#c" x="689.6" y="280.3"/>
<use href="#c" x="693" y="280.3"/>
<use href="#c" x="696.5" y="280.3"/>
<use href="#c" x="700" y="280.3"/>
<use href="#c" x="703" y="284.5"/>
<use href="#c" x="706.5" y="284.5"/>
<use href="#c" x="710" y="284.5"/>
<use href="#c" x="713.5" y="284.5"/>
<use href="#c" x="717" y="284.5"/>
<use href="#c" x="720.5" y="284.5"/>
<use href="#c" x="724" y="284.5"/>
<use href="#c" x="727.5" y="284.5"/>
<use href="#c" x="731" y="284.5"/>
<use href="#c" x="734.5" y="284.5"/>
<use href="#c" x="738" y="284.5"/>
<use href="#c" x="741.5" y="284.5"/>
<use href="#c" x="745.1" y="284.5"/>
<use href="#c" x="748.6" y="284.5"/>
<use href="#c" x="752.1" y="284.5"/>
<use href="#c" x="755.6" y="284.5"/>
<use href="#c" x="759.1" y="284.5"/>
<use href="#c" x="762.6" y="284.5"/>
<use href="#c" x="766.1" y="284.5"/>
<use href="#c" x="769.6" y="284.5"/>
<use href="#c" x="773.1" y="284.5"/>
<use href="#c" x="776.6" y="284.5"/>
<use href="#c" x="780.1" y="284.5"/>
<use href="#c" x="783.6" y="284.5"/>
<use href="#c" x="787.1" y="284.5"/>
<use href="#c" x="790.6" y="284.5"/>
<use href="#c" x="794.1" y="284.5"/>
<use href="#c" x="797.6" y="284.5"/>
<use href="#c" x="801.1" y="284.5"/>
<use href="#c" x="804.6" y="284.5"/>
<use href="#c" x="808.1" y="284.5"/>
<use href="#c" x="811.6" y="284.5"/>
<use href="#c" x="815.1" y="284.5"/>
<use href="#c" x="818.6" y="284.5"/>
<use href="#c" x="822.1" y="284.5"/>
<use href="#c" x="825.6" y="284.5"/>
<use href="#c" x="829.2" y="284.5"/>
<use href="#c" x="832.7" y="284.5"/>
<use href="#c" x="836.2" y="284.5"/>
<use href="#c" x="839.7" y="284.5"/>
<use href="#c" x="843.2" y="284.5"/>
<use href="#c" x="846.7" y="284.5"/>
<use href="#c" x="850.2" y="284.5"/>
<use href="#c" x="853.7" y="284.5"/>
<use href="#c" x="857.2" y="284.5"/>
<use href="#c" x="860.7" y="284.5"/>
<use href="#c" x="864.2" y="284.5"/>
<use href="#c" x="867.7" y="284.5"/>
<use href="#c" x="871.2" y="284.5"/>
<use href="#c" x="874.7" y="284.5"/>
<use href="#c" x="878.2" y="284.5"/>
<use href="#c" x="881.7" y="284.5"/>
<use href="#c" x="885.2" y="284.5"/>
<use href="#c" x="888.7" y="284.5"/>
<use href="#c" x="892.2" y="284.5"/>
<use href="#c" x="895.7" y="284.5"/>
<use href="#c" x="899.2" y="284.5"/>
<use href="#c" x="902.7" y="284.5"/>
<use href="#c" x="906.2" y="284.5"/>
<use href="#c" x="909.8" y="284.5"/>
<use href="#c" x="913.3" y="284.5"/>
<use href="#c" x="916.8" y="284.5"/>
<use href="#c" x="920.3" y="284.5"/>
<use href="#c" x="923.8" y="284.5"/>
<use href="#c" x="927.3" y="284.5"/>
<use href="#c" x="930.8" y="284.5"/>
<use href="#c" x="934.3" y="284.5"/>
<use href="#c" x="937.8" y="284.5"/>
<use href="#c" x="941.3" y="284.5"/>
<use href="#c" x="944.8" y="284.5"/>
<use href="#c" x="948.3" y="284.5"/>
<use href="#c" x="951.8" y="284.5"/>
<use href="#c" x="955.3" y="284.5"/>
<use href="#c" x="958.8" y="284.5"/>
<use href="#c" x="962.3" y="284.5"/>
<use href="#c" x="965.8" y="284.5"/>
<use href="#c" x="969.3" y="284.5"/>
<use href="#c" x="972.8" y="284.5"/>
<use href="#c" x="976.3" y="284.5"/>
<use href="#c" x="979.8" y="284.5"/>
<use href="#c" x="983.3" y="284.5"/>
<use href="#c" x="986.8" y="284.5"/>
<use href="#c" x="990.3" y="284.5"/>
<use href="#c" x="993.9" y="284.5"/>
<use href="#c" x="997.4" y="284.5"/>
<use href="#c" x="1000.9" y="284.5"/>
<use href="#c" x="1004.4" y="284.5"/>
<use href="#c" x="1007.9" y="284.5"/>
<use href="#c" x="1011.4" y="284.5"/>
<use href="#c" x="1014.9" y="284.5"/>
<use href="#c" x="1018.4" y="284.5"/>
<use href="#c" x="1021.9" y="284.5"/>
<use href="#c" x="1025.4" y="284.5"/>
<use href="#c" x="1028.9" y="284.5"/>
<use href="#c" x="1032.4" y="284.5"/>
<use href="#c" x="1035.9" y="284.5"/>
<use href="#c" x="1039.4" y="284.5"/>
<use href="#c" x="1042.9" y="284.5"/>
<use href="#c" x="1046.4" y="284.5"/>
<use href="#c" x="1049.9" y="284.5"/>
<use href="#c" x="1053.4" y="284.5"/>
<use href="#c" x="1056.9" y="284.5"/>
<use href="#c" x="1060.4" y="284.5"/>
<use href="#c" x="1063.9" y="284.5"/>
<use href="#c" x="1067.4" y="284.5"/>
<use href="#c" x="1070.9" y="284.5"/>
<use href="#c" x="1074.4" y="284.5"/>
<use href="#c" x="1078" y="284.5"/>
<use href="#c" x="1081.5" y="284.5"/>
<use href="#c" x="1085" y="284.5"/>
<use href="#c" x="1088.5" y="284.5"/>
<use href="#c" x="1092" y="284.5"/>
<use href="#c" x="1095.5" y="284.5"/>
<use href="#c" x="1099" y="284.5"/>
<use href="#c" x="1102.5" y="284.5"/>
<use href="#c" x="1106" y="284.5"/>
<use href="#c" x="1109.5" y="284.5"/>
<use href="#c" x="1113" y="284.5"/>
<use href="#c" x="1116.5" y="284.5"/>
<use href="#c" x="1120" y="284.5"/>
<use href="#c" x="1123.5" y="284.5"/>
<use href="#c" x="1127" y="284.5"/>
<use href="#c" x="1130.5" y="284.5"/>
<use href="#c" x="1134" y="284.5"/>
<use href="#c" x="1137.5" y="284.5"/>
<use href="#c" x="1141" y="284.5"/>
<use href="#c" x="1144.5" y="284.5"/>
<use href="#c" x="1148" y="284.5"/>
<use href="#c" x="1151.5" y="284.5"/>
<use href="#c" x="1155" y="284.5"/>
<use href="#c" x="1158.6" y="284.5"/>
<use href="#c" x="1162.1" y="284.5"/>
<use href="#c" x="1165.6" y="284.5"/>
<use href="#c" x="1169.1" y="284.5"/>
<use href="#c" x="1172.6" y="284.5"/>
<use href="#c" x="1176.1" y="284.5"/>
<use href="#c" x="1179.6" y="284.5"/>
<use href="#c" x="1183.1" y="284.5"/>
<use href="#c" x="1186.6" y="284.5"/>
<use href="#c" x="1190.1" y="284.5"/>
<use href="#c" x="1193.6" y="284.5"/>
<use href="#c" x="1197.1" y="284.5"/>
<use href="#c" x="1200.6" y="284.5"/>
<use href="#c" x="1204.1" y="284.5"/>
<use href="#c" x="1207.6" y="284.5"/>
<use href="#c" x="1211.1" y="284.5"/>
<use href="#c" x="1214.6" y="284.5"/>
<use href="#c" x="1218.1" y="284.5"/>
<use href="#c" x="1221.6" y="284.5"/>
<use href="#c" x="1225.1" y="284.5"/>
<use href="#c" x="1228.6" y="284.5"/>
<use href="#c" x="1232.1" y="284.5"/>
<use href="#c" x="1235.6" y="284.5"/>
<use href="#c" x="1239.1" y="284.5"/>
<use href="#c" x="1242.7" y="284.5"/>
<use href="#c" x="1246.2" y="284.5"/>
<use href="#c" x="1249.7" y="284.5"/>
<use href="#c" x="1253.2" y="284.5"/>
<use href="#c" x="1256.7" y="284.5"/>
<use href="#c" x="1260.2" y="284.5"/>
<use href="#c" x="1263.7" y="284.5"/>
<use href="#c" x="1267.2" y="284.5"/>
<use href="#c" x="1270.7" y="284.5"/>
<use href="#c" x="1274.2" y="284.5"/>
<use href="#c" x="1277.7" y="284.5"/>
<use href="#c" x="1281.2" y="284.5"/>
<use href="#c" x="1284.7" y="284.5"/>
<use href="#c" x="1288.2" y="284.5"/>
<use href="#c" x="1291.7" y="284.5"/>
<use href="#c" x="1295.2" y="284.5"/>
<use href="#c" x="1298.7" y="284.5"/>
<use href="#c" x="1302.2" y="284.5"/>
<use href="#c" x="1305.7" y="284.5"/>
<use href="#c" x="1309.2" y="284.5"/>
<use href="#c" x="1312.7" y="284.5"/>
<use href="#c" x="1316.2" y="284.5"/>
<use href="#c" x="1319.7" y="284.5"/>
<use href="#c" x="1323.2" y="284.5"/>
<use href="#c" x="1326.8" y="284.5"/>
<use href="#c" x="1330.3" y="284.5"/>
<use href="#c" x="1333.8" y="284.5"/>
<use href="#c" x="1337.3" y="284.5"/>
<use href="#c" x="1340.8" y="284.5"/>
<use href="#c" x="1344.3" y="284.5"/>
<use href="#c" x="1347.8" y="284.5"/>
<use href="#c" x="1351.3" y="284.5"/>
<use href="#c" x="1354.8" y="284.5"/>
<use href="#c" x="1358.3" y="284.5"/>
<use href="#c" x="1361.8" y="284.5"/>
<use href="#c" x="1365.3" y="284.5"/>
<use href="#c" x="1368.8" y="284.5"/>
<use href="#c" x="1372.3" y="284.5"/>
<use href="#c" x="1375.8" y="284.5"/>
<use href="#c" x="1379.3" y="284.5"/>
<use href="#c" x="1382.8" y="284.5"/>
<use href="#c" x="1386.3" y="284.5"/>
<use href="#c" x="1389.8" y="284.5"/>
<use href="#c" x="1393.3" y="284.5"/>
<use href="#c" x="1396.8" y="284.5"/>
<use href="#c" x="1400.3" y="284.5"/>
<use href="#c" x="1403.8" y="284.5"/>
<use href="#c" x="1407.4" y="284.5"/>
<use href="#c" x="1410.9" y="284.5"/>
<use href="#c" x="1414.4" y="284.5"/>
<use href="#c" x="1417.9" y="284.5"/>
<use href="#c" x="1421.4" y="284.5"/>
<use href="#c" x="1424.9" y="284.5"/>
<use href="#c" x="1428.4" y="284.5"/>
<use href="#c" x="1431.9" y="284.5"/>
<use href="#c" x="1435.4" y="284.5"/>
<use href="#c" x="1438.9" y="284.5"/>
<use href="#c" x="1442.4" y="284.5"/>
<use href="#c" x="1445.9" y="284.5"/>
<use href="#c" x="1449.4" y="284.5"/>
<use href="#c" x="1452.9" y="284.5"/>
<use href="#c" x="1456.4" y="284.5"/>
<use href="#c" x="1459.9" y="284.5"/>
<use href="#c" x="1463.4" y="284.5"/>
<use href="#c" x="1466.9" y="284.5"/>
<use href="#c" x="1470.4" y="284.5"/>
<use href="#c" x="1473.9" y="284.5"/>
<use href="#c" x="1477.4" y="284.5"/>
<use href="#c" x="1480.9" y="284.5"/>
<use href="#c" x="1484.4" y="284.5"/>
<use href="#c" x="1487.9" y="284.5"/>
<use href="#c" x="1491.5" y="284.5"/>
<use href="#c" x="1495" y="284.5"/>
<use href="#c" x="1498.5" y="284.5"/>
<use href="#c" x="1502" y="284.5"/>
<use href="#c" x="1505.5" y="284.5"/>
<use href="#c" x="1509" y="284.5"/>
<use href="#c" x="1512.5" y="284.5"/>
<use href="#c" x="1516" y="284.5"/>
<use href="#c" x="1519.5" y="284.5"/>
<use href="#c" x="1523" y="284.5"/>
<use href="#c" x="1526.5" y="284.5"/>
<use href="#c" x="1530" y="284.5"/>
<use href="#c" x="740" y="280.3"/>
<use href="#c" x="743.5" y="280.3"/>
<use href="#c" x="747" y="280.3"/>
<use href="#c" x="772" y="280.3"/>
<use href="#c" x="775" y="280.3"/>
<use href="#c" x="778" y="280.3"/>
<use href="#c" x="790" y="280.3"/>
<use href="#c" x="793.5" y="280.3"/>
<use href="#c" x="796.9" y="280.3"/>
<use href="#c" x="800.4" y="280.3"/>
<use href="#c" x="803.8" y="280.3"/>
<use href="#c" x="807.3" y="280.3"/>
<use href="#c" x="810.8" y="280.3"/>
<use href="#c" x="814.2" y="280.3"/>
<use href="#c" x="817.7" y="280.3"/>
<use href="#c" x="821.2" y="280.3"/>
<use href="#c" x="824.6" y="280.3"/>
<use href="#c" x="828.1" y="280.3"/>
<use href="#c" x="831.5" y="280.3"/>
<use href="#c" x="835" y="280.3"/>
<use href="#c" x="853" y="280.3"/>
<use href="#c" x="856.8" y="280.3"/>
<use href="#c" x="860.5" y="280.3"/>
<use href="#c" x="864.2" y="280.3"/>
<use href="#c" x="868" y="280.3"/>
<use href="#c" x="905" y="280.3"/>
<use href="#c" x="908.7" y="280.3"/>
<use href="#c" x="912.3" y="280.3"/>
<use href="#c" x="916" y="280.3"/>
<use href="#c" x="919.7" y="280.3"/>
<use href="#c" x="923.3" y="280.3"/>
<use href="#c" x="927" y="280.3"/>
<use href="#c" x="1047" y="280.3"/>
<use href="#c" x="1050.7" y="280.3"/>
<use href="#c" x="1054.3" y="280.3"/>
<use href="#c" x="1058" y="280.3"/>
<use href="#c" x="1061.7" y="280.3"/>
<use href="#c" x="1065.3" y="280.3"/>
<use href="#c" x="1069" y="280.3"/>
<use href="#c" x="1072.7" y="280.3"/>
<use href="#c" x="1076.3" y="280.3"/>
<use href="#c" x="1080" y="280.3"/>
<use href="#c" x="1395" y="280.3"/>
<use href="#c" x="1398.6" y="280.3"/>
<use href="#c" x="1402.1" y="280.3"/>
<use href="#c" x="1405.7" y="280.3"/>
<use href="#c" x="1409.3" y="280.3"/>
<use href="#c" x="1412.9" y="280.3"/>
<use href="#c" x="1416.4" y="280.3"/>
<use href="#c" x="1420" y="280.3"/>
<use href="#c" x="1447" y="280.3"/>
<use href="#c" x="1450.5" y="280.3"/>
<use href="#c" x="1454" y="280.3"/>
<use href="#c" x="1457.5" y="280.3"/>
<use href="#c" x="1461" y="280.3"/>
<use href="#c" x="1464.5" y="280.3"/>
<use href="#c" x="1468" y="280.3"/>
<use href="#c" x="1471.5" y="280.3"/>
<use href="#c" x="1475" y="280.3"/>
<use href="#c" x="1490" y="280.3"/>
<use href="#c" x="1493.4" y="280.3"/>
<use href="#c" x="1496.8" y="280.3"/>
<use href="#c" x="1500.2" y="280.3"/>
<use href="#c" x="1503.6" y="280.3"/>
<use href="#c" x="1507" y="280.3"/>
<use href="#c" x="1530" y="280.3"/>
<use href="#c" x="1533.5" y="280.3"/>
<use href="#c" x="1537.1" y="280.3"/>
<use href="#c" x="1540.6" y="280.3"/>
<use href="#c" x="1544.2" y="280.3"/>
<use href="#c" x="1547.7" y="280.3"/>
<use href="#c" x="1551.3" y="280.3"/>
<use href="#c" x="1554.8" y="280.3"/>
<use href="#c" x="1558.4" y="280.3"/>
<use href="#c" x="1561.9" y="280.3"/>
<use href="#c" x="1565.5" y="280.3"/>
<use href="#c" x="1569" y="280.3"/>
<use href="#c" x="1572.6" y="280.3"/>
<use href="#c" x="1576.1" y="280.3"/>
<use href="#c" x="1579.7" y="280.3"/>
<use href="#c" x="1583.2" y="280.3"/>
<use href="#c" x="1586.8" y="280.3"/>
<use href="#c" x="1590.3" y="280.3"/>
<use href="#c" x="1593.9" y="280.3"/>
<use href="#c" x="1597.4" y="280.3"/>
<use href="#c" x="1601" y="280.3"/>
<use href="#c" x="1604.5" y="280.3"/>
<use href="#c" x="1608.1" y="280.3"/>
<use href="#c" x="1611.6" y="280.3"/>
<use href="#c" x="1615.2" y="280.3"/>
<use href="#c" x="1618.7" y="280.3"/>
<use href="#c" x="1622.3" y="280.3"/>
<use href="#c" x="1625.8" y="280.3"/>
<use href="#c" x="1629.4" y="280.3"/>
<use href="#c" x="1632.9" y="280.3"/>
<use href="#c" x="1636.5" y="280.3"/>
</g>
<g fill="#00f" clip-path="url(#plot)" shape-rendering="crispEdges">
<use href="#d" x="534.1" y="50.7"/>
<use href="#d" x="550.1" y="55.1"/>
<use href="#d" x="554.1" y="88.5"/>
<use href="#d" x="559.2" y="116.8"/>
<use href="#d" x="569.2" y="126.2"/>
<use href="#d" x="562.5" y="146.2"/>
<use href="#d" x="438" y="117.5"/>
<use href="#d" x="442.3" y="146.2"/>
<use href="#d" x="438" y="192.3"/>
<use href="#d" x="545.8" y="183.9"/>
<use href="#d" x="542.5" y="212.6"/>
<use href="#d" x="626.9" y="192.3"/>
<use href="#d" x="634.3" y="213"/>
<use href="#d" x="643.6" y="70.8"/>
<use href="#d" x="666.6" y="84.1"/>
<use href="#d" x="674.3" y="242"/>
<use href="#d" x="617.6" y="277.1"/>
<use href="#d" x="622.6" y="296.4"/>
<use href="#d" x="517.4" y="333.8"/>
<use href="#d" x="485.7" y="337.8"/>
<use href="#d" x="489.7" y="350.5"/>
<use href="#d" x="481.7" y="367.2"/>
<use href="#d" x="494.1" y="395.6"/>
<use href="#d" x="510.1" y="412.3"/>
<use href="#d" x="514.1" y="495.7"/>
<use href="#d" x="424" y="322.1"/>
<use href="#d" x="1005.5" y="53.4"/>
<use href="#d" x="1009.5" y="71.8"/>
<use href="#d" x="928.7" y="80.1"/>
<use href="#d" x="948.7" y="104.5"/>
<use href="#d" x="953.1" y="105.5"/>
<use href="#d" x="960.4" y="129.5"/>
<use href="#d" x="747.4" y="142.5"/>
<use href="#d" x="723.4" y="167.2"/>
<use href="#d" x="912.7" y="175.3"/>
<use href="#d" x="731.4" y="192.3"/>
<use href="#d" x="771.8" y="209"/>
<use href="#d" x="968.8" y="213"/>
<use href="#d" x="1001.1" y="226"/>
<use href="#d" x="715.1" y="238"/>
<use href="#d" x="1134" y="63.4"/>
<use href="#d" x="1150" y="71.8"/>
<use href="#d" x="1141.7" y="88.5"/>
<use href="#d" x="1146.4" y="92.8"/>
<use href="#d" x="1178.4" y="154.9"/>
<use href="#d" x="1153.7" y="167.2"/>
<use href="#d" x="1258.5" y="225.7"/>
<use href="#d" x="1137.7" y="250.4"/>
<use href="#d" x="799.5" y="275.7"/>
<use href="#d" x="699" y="288.1"/>
<use href="#d" x="1049.2" y="275.7"/>
<use href="#d" x="1101.3" y="275.7"/>
<use href="#d" x="1105.6" y="284.4"/>
<use href="#d" x="735.4" y="304.4"/>
<use href="#d" x="847.9" y="313.1"/>
<use href="#d" x="944.7" y="304.4"/>
<use href="#d" x="691.4" y="346.2"/>
<use href="#d" x="835.9" y="358.5"/>
<use href="#d" x="1202.4" y="362.9"/>
<use href="#d" x="1214.1" y="367.2"/>
<use href="#d" x="1242.5" y="367.2"/>
<use href="#d" x="1250.8" y="354.5"/>
<use href="#d" x="1346.6" y="337.8"/>
<use href="#d" x="1354.3" y="333.8"/>
<use href="#d" x="1739.6" y="71.8"/>
<use href="#d" x="1484.2" y="121.5"/>
<use href="#d" x="1717.9" y="121.5"/>
<use href="#d" x="1588.7" y="146.5"/>
<use href="#d" x="1636.7" y="146.5"/>
<use href="#d" x="1669.1" y="163.2"/>
<use href="#d" x="1641.1" y="179.9"/>
<use href="#d" x="1540.3" y="192.3"/>
<use href="#d" x="1822.3" y="188.3"/>
<use href="#d" x="1488.2" y="283.8"/>
<use href="#d" x="1435.8" y="325.5"/>
<use href="#d" x="1360" y="333.8"/>
<use href="#d" x="1511.9" y="350.2"/>
<use href="#d" x="1480.2" y="358.5"/>
<use href="#d" x="1850.1" y="434"/>
<use href="#d" x="582.5" y="699.6"/>
<use href="#d" x="586.5" y="753.6"/>
<use href="#d" x="602.6" y="782.7"/>
<use href="#d" x="478" y="953.6"/>
<use href="#d" x="429.6" y="1065.8"/>
<use href="#d" x="707.4" y="710.9"/>
<use href="#d" x="711.4" y="724.3"/>
<use href="#d" x="771.8" y="703.6"/>
<use href="#d" x="795.8" y="699.6"/>
<use href="#d" x="1068.9" y="662.5"/>
<use href="#d" x="1073.9" y="657.5"/>
<use href="#d" x="1080.6" y="653.5"/>
<use href="#d" x="1100.6" y="674.2"/>
<use href="#d" x="1109" y="670.2"/>
<use href="#d" x="1097.3" y="703.6"/>
<use href="#d" x="1117.3" y="707.6"/>
<use href="#d" x="1121.3" y="713.6"/>
<use href="#d" x="1125.7" y="719.3"/>
<use href="#d" x="1157.4" y="657.5"/>
<use href="#d" x="1162.4" y="653.5"/>
<use href="#d" x="1169.7" y="653.5"/>
<use href="#d" x="1187.4" y="685.9"/>
<use href="#d" x="1194.1" y="694.9"/>
<use href="#d" x="1230.1" y="711.9"/>
<use href="#d" x="1262.5" y="715.9"/>
<use href="#d" x="1266.5" y="715.9"/>
<use href="#d" x="1282.6" y="777.7"/>
<use href="#d" x="1290.9" y="779.3"/>
<use href="#d" x="1300.9" y="782.7"/>
<use href="#d" x="1310.9" y="786.7"/>
<use href="#d" x="1327.6" y="820.4"/>
<use href="#d" x="1334.3" y="832.8"/>
<use href="#d" x="1336" y="844.4"/>
<use href="#d" x="1339.3" y="852.8"/>
<use href="#d" x="1357.7" y="852.8"/>
<use href="#d" x="972.8" y="836.8"/>
<use href="#d" x="977.1" y="844.4"/>
<use href="#d" x="985.4" y="848.4"/>
<use href="#d" x="992.1" y="844.4"/>
<use href="#d" x="996.5" y="840.4"/>
<use href="#d" x="743.4" y="894.5"/>
<use href="#d" x="856.9" y="940.2"/>
<use href="#d" x="861.9" y="939.6"/>
<use href="#d" x="870.3" y="936.2"/>
<use href="#d" x="877" y="936.2"/>
<use href="#d" x="883.6" y="936.2"/>
<use href="#d" x="892" y="937.9"/>
<use href="#d" x="898.7" y="940.2"/>
<use href="#d" x="907" y="936.2"/>
<use href="#d" x="915.3" y="931.9"/>
<use href="#d" x="922" y="924.6"/>
<use href="#d" x="924.7" y="915.2"/>
<use href="#d" x="811.9" y="1036.4"/>
<use href="#d" x="820.2" y="1028"/>
<use href="#d" x="825.2" y="1023"/>
<use href="#d" x="827.9" y="1015.4"/>
<use href="#d" x="1343.3" y="969.6"/>
<use href="#d" x="1556.3" y="654.2"/>
<use href="#d" x="1621.1" y="661.8"/>
<use href="#d" x="1629.1" y="682.5"/>
<use href="#d" x="1693.8" y="661.8"/>
<use href="#d" x="1697.2" y="657.5"/>
<use href="#d" x="1745.6" y="682.5"/>
<use href="#d" x="1753.9" y="703.6"/>
<use href="#d" x="1834" y="690.9"/>
<use href="#d" x="1919.2" y="695.2"/>
<use href="#d" x="1536.3" y="745.3"/>
<use href="#d" x="1624.7" y="741"/>
<use href="#d" x="1653.1" y="745.3"/>
<use href="#d" x="1713.9" y="753.6"/>
<use href="#d" x="1797.3" y="745.3"/>
<use href="#d" x="1805.7" y="749.3"/>
<use href="#d" x="1548.6" y="777.7"/>
<use href="#d" x="1552.6" y="774.3"/>
<use href="#d" x="1564.6" y="841.1"/>
<use href="#d" x="1644.8" y="877.8"/>
<use href="#d" x="1560.3" y="898.9"/>
<use href="#d" x="1588.7" y="919.6"/>
<use href="#d" x="1592.7" y="920.6"/>
<use href="#d" x="1395.1" y="948.9"/>
<use href="#d" x="1403.4" y="956.3"/>
<use href="#d" x="1411.7" y="961.3"/>
<use href="#d" x="1515.9" y="948.9"/>
<use href="#d" x="1447.5" y="1007.3"/>
<use href="#d" x="1455.8" y="1015.4"/>
<use href="#d" x="1451.8" y="1024.7"/>
<use href="#d" x="1761.6" y="1061.4"/>
<use href="#d" x="1765.6" y="1086.5"/>
<use href="#d" x="1475.8" y="1111.4"/>
<use href="#d" x="1488.5" y="1165.5"/>
<use href="#d" x="1544.3" y="1277.9"/>
<use href="#d" x="1572.6" y="1360.7"/>
<use href="#d" x="1577" y="1369.8"/>
<use href="#d" x="1581" y="1381.4"/>
<use href="#d" x="695.3" y="375.8"/>
<use href="#d" x="719.5" y="400.1"/>
<use href="#d" x="703.6" y="408.7"/>
<use href="#d" x="646.9" y="395.9"/>
<use href="#d" x="631" y="412.6"/>
<use href="#d" x="816" y="395.9"/>
<use href="#d" x="840.5" y="400.1"/>
<use href="#d" x="844.7" y="400.1"/>
<use href="#d" x="832.2" y="441.8"/>
<use href="#d" x="590.6" y="462.7"/>
<use href="#d" x="590.6" y="479.3"/>
<use href="#d" x="578.4" y="487.7"/>
<use href="#d" x="606.8" y="500.2"/>
<use href="#d" x="611" y="525.3"/>
<use href="#d" x="658.9" y="512.7"/>
<use href="#d" x="752" y="545.3"/>
<use href="#d" x="803.8" y="542"/>
<use href="#d" x="775.7" y="570.3"/>
<use href="#d" x="808" y="587.9"/>
<use href="#d" x="852.2" y="595.7"/>
<use href="#d" x="542.5" y="603.7"/>
<use href="#d" x="663.1" y="616.7"/>
<use href="#d" x="1045.3" y="375.8"/>
<use href="#d" x="1130.1" y="383.7"/>
<use href="#d" x="1041.5" y="471"/>
<use href="#d" x="1174.7" y="475.2"/>
<use href="#d" x="1182.2" y="479.3"/>
<use href="#d" x="1197.2" y="496"/>
<use href="#d" x="1037.5" y="587.5"/>
<use href="#d" x="1206.7" y="370.8"/>
<use href="#d" x="1217.5" y="371.7"/>
<use href="#d" x="1227.6" y="404.2"/>
<use href="#d" x="1229.6" y="404.2"/>
<use href="#d" x="1363.6" y="392.2"/>
<use href="#d" x="1392" y="383.7"/>
<use href="#d" x="1439.9" y="400.4"/>
<use href="#d" x="1415.9" y="417.1"/>
<use href="#d" x="1383.7" y="450.1"/>
<use href="#d" x="1383.7" y="462.3"/>
<use href="#d" x="1427.9" y="454.3"/>
<use href="#d" x="1472.1" y="479.3"/>
<use href="#d" x="1359.4" y="496"/>
<use href="#d" x="1234.7" y="533.3"/>
<use href="#d" x="1500.5" y="520.8"/>
<use href="#d" x="1519.7" y="566.7"/>
<use href="#d" x="1523.9" y="566.7"/>
<use href="#d" x="1367.5" y="582.9"/>
<use href="#d" x="1371.6" y="590.4"/>
<use href="#d" x="1375.3" y="603.7"/>
<use href="#d" x="1379.5" y="612.9"/>
<use href="#d" x="1585.1" y="387.5"/>
<use href="#d" x="1657.4" y="392.2"/>
<use href="#d" x="1794.2" y="387.5"/>
<use href="#d" x="1773.8" y="412.6"/>
<use href="#d" x="1835.6" y="404.2"/>
<use href="#d" x="1818.5" y="433.4"/>
<use href="#d" x="1568.9" y="475.2"/>
<use href="#d" x="1613.2" y="504.4"/>
<use href="#d" x="1616.9" y="537.8"/>
<use href="#d" x="1565.1" y="562.8"/>
<use href="#d" x="1609" y="579.2"/>
<use href="#d" x="1531.7" y="562.8"/>
<use href="#d" x="1536.7" y="571.2"/>
<use href="#d" x="1842.5" y="308.8"/>
<use href="#d" x="1846.5" y="321.6"/>
<use href="#d" x="1854.3" y="354.9"/>
<use href="#d" x="1826.3" y="271.6"/>
<use href="#d" x="1911.2" y="258.8"/>
<use href="#d" x="1915.1" y="258.8"/>
<use href="#d" x="1770" y="291.8"/>
<use href="#d" x="1778.4" y="296.7"/>
<use href="#d" x="1709.8" y="250.6"/>
<use href="#d" x="1661.2" y="225.5"/>
<use href="#d" x="1665.5" y="234.3"/>
<use href="#d" x="1718" y="204.9"/>
<use href="#d" x="1722.4" y="204.9"/>
<use href="#d" x="1649.4" y="338.2"/>
<use href="#d" x="1693.5" y="375.1"/>
<use href="#d" x="1729.8" y="379.4"/>
<use href="#d" x="1854.3" y="330.4"/>
<use href="#d" x="1858.2" y="334.3"/>
<use href="#d" x="1862.2" y="334.3"/>
<use href="#d" x="1866.2" y="334.3"/>
<use href="#d" x="1870.2" y="334.3"/>
<use href="#d" x="1874.2" y="334.3"/>
<use href="#d" x="1878.3" y="334.3"/>
<use href="#d" x="1882.3" y="334.3"/>
<use href="#d" x="1886.3" y="334.3"/>
<use href="#d" x="1890.3" y="334.3"/>
<use href="#d" x="1894.3" y="334.3"/>
<use href="#d" x="1898.3" y="334.3"/>
<use href="#d" x="1902.3" y="334.3"/>
<use href="#d" x="1906.3" y="334.3"/>
<use href="#d" x="1918" y="334.3"/>
<use href="#d" x="1922" y="334.3"/>
<use href="#d" x="1925.9" y="334.3"/>
<use href="#d" x="1929.9" y="334.3"/>
<use href="#d" x="1933.8" y="334.3"/>
<use href="#d" x="1937.7" y="334.3"/>
<use href="#d" x="1941.7" y="334.3"/>
<use href="#d" x="1945.6" y="334.3"/>
<use href="#d" x="1949.6" y="334.3"/>
<use href="#d" x="1953.5" y="334.3"/>
<use href="#d" x="1957.5" y="334.3"/>
<use href="#d" x="1961.4" y="334.3"/>
<use href="#d" x="1965.3" y="334.3"/>
<use href="#d" x="1969.3" y="334.3"/>
<use href="#d" x="1973.2" y="334.3"/>
<use href="#d" x="1977.2" y="334.3"/>
<use href="#d" x="1981.1" y="334.3"/>
<use href="#d" x="1985" y="334.3"/>
<use href="#d" x="1989" y="334.3"/>
<use href="#d" x="1992.9" y="334.3"/>
<use href="#d" x="1996.9" y="334.3"/>
<use href="#d" x="1890.6" y="337.3"/>
<use href="#d" x="1890.8" y="337.3"/>
<use href="#d" x="2002.4" y="338.2"/>
<use href="#d" x="490" y="217"/>
<use href="#d" x="446.2" y="288.8"/>
<use href="#d" x="450" y="275.5"/>
<use href="#d" x="458.8" y="278.8"/>
<use href="#d" x="467" y="271.2"/>
<use href="#d" x="472" y="272.5"/>
<use href="#d" x="498.8" y="275.8"/>
<use href="#d" x="503.8" y="280"/>
<use href="#d" x="522" y="271.2"/>
<use href="#d" x="506.2" y="308"/>
<use href="#d" x="515" y="308.8"/>
<use href="#d" x="425" y="320"/>
<use href="#d" x="420" y="325"/>
<use href="#d" x="415" y="330"/>
<use href="#d" x="276" y="334"/>
<use href="#d" x="279.5" y="334"/>
<use href="#d" x="283.1" y="334"/>
<use href="#d" x="286.6" y="334"/>
<use href="#d" x="290.1" y="334"/>
<use href="#d" x="293.6" y="334"/>
<use href="#d" x="297.2" y="334"/>
<use href="#d" x="300.7" y="334"/>
<use href="#d" x="304.2" y="334"/>
<use href="#d" x="307.7" y="334"/>
<use href="#d" x="311.3" y="334"/>
<use href="#d" x="314.8" y="334"/>
<use href="#d" x="318.3" y="334"/>
<use href="#d" x="321.8" y="334"/>
<use href="#d" x="325.4" y="334"/>
<use href="#d" x="328.9" y="334"/>
<use href="#d" x="332.4" y="334"/>
<use href="#d" x="335.9" y="334"/>
<use href="#d" x="339.5" y="334"/>
<use href="#d" x="343" y="334"/>
<use href="#d" x="346.5" y="334"/>
<use href="#d" x="350.1" y="334"/>
<use href="#d" x="353.6" y="334"/>
<use href="#d" x="357.1" y="334"/>
<use href="#d" x="360.6" y="334"/>
<use href="#d" x="364.2" y="334"/>
<use href="#d" x="367.7" y="334"/>
<use href="#d" x="371.2" y="334"/>
<use href="#d" x="374.7" y="334"/>
<use href="#d" x="378.3" y="334"/>
<use href="#d" x="381.8" y="334"/>
<use href="#d" x="385.3" y="334"/>
<use href="#d" x="388.8" y="334"/>
<use href="#d" x="392.4" y="334"/>
<use href="#d" x="395.9" y="334"/>
<use href="#d" x="399.4" y="334"/>
<use href="#d" x="402.9" y="334"/>
<use href="#d" x="406.5" y="334"/>
<use href="#d" x="410" y="334"/>
<use href="#d" x="412.5" y="332"/>
<use href="#d" x="417.5" y="327.5"/>
<use href="#d" x="422.5" y="322.5"/>
</g>
<rect x="335.5" y="1214.5" width="634" height="142" fill="#fff" stroke="#000" stroke-width="7"/>
<use href="#c" x="359" y="1311" fill="#000"/>
<rect x="570.8" y="1303" width="24.2" height="26.7" rx="2" fill="#f00"/>
<use href="#d" x="791.4" y="1310" fill="#00f"/>
<text transform="translate(233 64.5) scale(1.16 1)" font-size="61" font-weight="bold" font-style="normal" text-anchor="end" fill="#000" stroke="#fff" stroke-width="1.8">0.2</text>
<text transform="translate(233 209.8) scale(1.16 1)" font-size="61" font-weight="bold" font-style="normal" text-anchor="end" fill="#000" stroke="#fff" stroke-width="1.8">0.1</text>
<text transform="translate(233 355.1) scale(1.16 1)" font-size="61" font-weight="bold" font-style="normal" text-anchor="end" fill="#000" stroke="#fff" stroke-width="1.8">0.0</text>
<text transform="translate(233 500.4) scale(1.16 1)" font-size="61" font-weight="bold" font-style="normal" text-anchor="end" fill="#000" stroke="#fff" stroke-width="1.8">-0.1</text>
<text transform="translate(233 642.3) scale(1.16 1)" font-size="61" font-weight="bold" font-style="normal" text-anchor="end" fill="#000" stroke="#fff" stroke-width="1.8">-0.2</text>
<text transform="translate(233 787.7) scale(1.16 1)" font-size="61" font-weight="bold" font-style="normal" text-anchor="end" fill="#000" stroke="#fff" stroke-width="1.8">-0.3</text>
<text transform="translate(233 933.2) scale(1.16 1)" font-size="61" font-weight="bold" font-style="normal" text-anchor="end" fill="#000" stroke="#fff" stroke-width="1.8">-0.4</text>
<text transform="translate(233 1078.6) scale(1.16 1)" font-size="61" font-weight="bold" font-style="normal" text-anchor="end" fill="#000" stroke="#fff" stroke-width="1.8">-0.5</text>
<text transform="translate(233 1224.1) scale(1.16 1)" font-size="61" font-weight="bold" font-style="normal" text-anchor="end" fill="#000" stroke="#fff" stroke-width="1.8">-0.6</text>
<text transform="translate(233 1369.5) scale(1.16 1)" font-size="61" font-weight="bold" font-style="normal" text-anchor="end" fill="#000" stroke="#fff" stroke-width="1.8">-0.7</text>
<text transform="translate(445.3 1504.2) scale(1.16 1)" font-size="61" font-weight="bold" font-style="normal" text-anchor="middle" fill="#000" stroke="#fff" stroke-width="1.8">0</text>
<text transform="translate(794.5 1504.2) scale(1.16 1)" font-size="61" font-weight="bold" font-style="normal" text-anchor="middle" fill="#000" stroke="#fff" stroke-width="1.8">100</text>
<text transform="translate(1142 1504.2) scale(1.16 1)" font-size="61" font-weight="bold" font-style="normal" text-anchor="middle" fill="#000" stroke="#fff" stroke-width="1.8">200</text>
<text transform="translate(1487.4 1504.2) scale(1.16 1)" font-size="61" font-weight="bold" font-style="normal" text-anchor="middle" fill="#000" stroke="#fff" stroke-width="1.8">300</text>
<text transform="translate(1839.3 1504.2) scale(1.16 1)" font-size="61" font-weight="bold" font-style="normal" text-anchor="middle" fill="#000" stroke="#fff" stroke-width="1.8">400</text>
<text transform="translate(1143 1590.5) scale(1.111 1)" font-size="86" font-weight="bold" font-style="normal" text-anchor="middle" fill="#000" stroke="#fff" stroke-width="2.2">Relative position (mm)</text>
<text transform="translate(76.7 729.5) rotate(-90) scale(1.067671 1)" font-size="86" font-weight="bold" font-style="normal" text-anchor="middle" fill="#000" stroke="#fff" stroke-width="2.2">Strain (%)</text>
<text transform="translate(345.2 1266) scale(1.178 1)" font-size="58" font-weight="bold" font-style="normal" text-anchor="start" fill="#000" stroke="#fff" stroke-width="1.2">measurement</text>
<text transform="translate(402.5 1343) scale(1.285 1)" font-size="80" font-weight="normal" font-style="italic" text-anchor="start" fill="#000" stroke="#fff" stroke-width="1.3">#</text>
<text transform="translate(456 1331.5) scale(1.16 1)" font-size="61" font-weight="bold" font-style="normal" text-anchor="start" fill="#000" stroke="#fff" stroke-width="1.8">16</text>
<text transform="translate(626.5 1343) scale(1.285 1)" font-size="80" font-weight="normal" font-style="italic" text-anchor="start" fill="#f00" stroke="#fff" stroke-width="1.3">#</text>
<text transform="translate(680 1331.5) scale(1.16 1)" font-size="61" font-weight="bold" font-style="normal" text-anchor="start" fill="#f00" stroke="#fff" stroke-width="1.8">21</text>
<text transform="translate(837.5 1343) scale(1.285 1)" font-size="80" font-weight="normal" font-style="italic" text-anchor="start" fill="#00f" stroke="#fff" stroke-width="1.3">#</text>
<text transform="translate(889.5 1331.5) scale(1.16 1)" font-size="61" font-weight="bold" font-style="normal" text-anchor="start" fill="#00f" stroke="#fff" stroke-width="1.8">35</text>
</svg>
</body></html>
